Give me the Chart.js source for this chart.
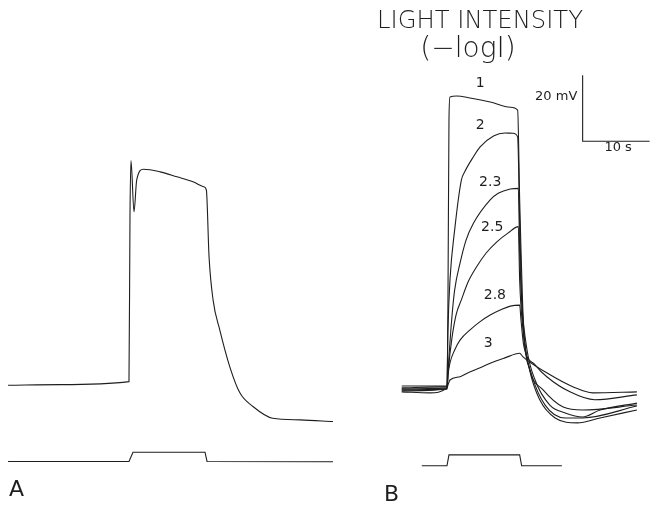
<!DOCTYPE html>
<html>
<head>
<meta charset="utf-8">
<script src="https://cdn.jsdelivr.net/npm/chart.js@4"></script>
<style>
  body { margin: 0; background: #fff; }
  canvas { display: block; }
</style>
</head>
<body>
<canvas id="myChart" width="655" height="506"></canvas>
<script>
// Panel A: time (s, from light onset) and potential (mV)
const traceA = [[-18.2,-0.4],[-10.4,-0.2],[-0.15,0.7],[0,50.7],[0.15,67.7],[0.6,52.2],[1.0,61.8],[2.0,65.1],[4.5,64.3],[7.0,62.8],[9.4,61.3],[11.0,59.8],[11.4,58.8],[11.8,38.6],[12.4,25.5],[13.4,16.4],[14.9,5.2],[16.4,-2.7],[18.4,-6.9],[21.3,-10.4],[25.4,-10.9],[30.3,-11.4]];
const stimA = [[-18.2,-23.5],[-0.15,-23.5],[0.45,-20.7],[11.2,-20.7],[11.5,-23.5],[30.3,-23.6]];

// Panel B: one trace per light intensity (-log I)
const intensities = ["1", "2", "2.3", "2.5", "2.8", "3"];
const trace1 = [[-6.9,-0.6],[-1.2,-0.3],[-0.15,-0.3],[0,26.1],[0.15,80.6],[0.3,87.6],[1.3,87.9],[3.3,87.3],[6.3,86.1],[9.3,84.5],[10.4,83.6],[10.7,56.4],[10.9,41.2],[11.3,17],[12.2,4.8],[13.7,-4.2],[16,-9.7],[19.3,-11.2],[22.7,-9.7],[28.2,-7.3]];
const trace2 = [[-6.9,0],[-0.15,0],[0,17],[0.3,32.1],[1.0,47.3],[2.0,62.4],[2.5,64.9],[3.8,69.5],[4.8,72.5],[6.8,75.8],[8.5,76.7],[9.7,76.6],[10.4,75.5],[10.7,50.3],[11.0,26.1],[11.5,12.4],[12.5,3.3],[14.5,-5.8],[17.5,-9.7],[20.1,-9.7],[28.2,-6.1]];
const trace23 = [[-6.9,-0.9],[-0.15,-0.6],[0.05,5.8],[0.55,20],[1.0,29.1],[1.8,37.2],[2.7,44.2],[3.8,49.3],[6.3,56.4],[7.5,58.4],[9.3,59.7],[10.5,59.9],[10.7,41.2],[11.0,26.1],[11.8,10.9],[13.0,1.8],[15.2,-5.8],[17.5,-8.2],[20.1,-9.4],[22.7,-7.3],[28.2,-5.2]];
const trace25 = [[-6.9,-1.2],[-0.15,-0.9],[0.05,4.8],[0.55,13.9],[1.2,21.5],[2.0,26.1],[3.0,31.5],[4.3,36.2],[5.7,40.3],[7.3,43.7],[9.0,46.4],[10.5,48.3],[10.7,32.1],[11.2,17],[12.2,4.8],[14.2,-1.2],[17.2,-6.4],[20.1,-7.3],[28.2,-5.8]];
const trace28 = [[-6.9,-1.5],[-0.15,-0.9],[0,3.3],[0.3,7],[1.0,10.9],[1.8,13.9],[3.3,17],[4.8,19.5],[6.3,21.5],[7.8,23],[9.3,24.2],[10.7,24.5],[10.9,20],[11.3,12.4],[13.0,6.4],[14.8,2.7],[18.2,-1.8],[21.9,-4.2],[28.2,-2.7]];
const trace3 = [[-6.9,-1.8],[-2.7,-2.1],[-0.15,-0.6],[0,0.3],[0.3,1.8],[1.8,2.8],[2.8,3.8],[4.8,5.5],[6.3,6.9],[8.5,8.5],[10.7,9.9],[11.2,8.8],[14.8,3.9],[18.7,-0.3],[21.6,-2.1],[28.2,-1.8]];
const tracesB = [trace1, trace2, trace23, trace25, trace28, trace3];
const labelPosB = [[4.8,91.8],[4.8,79.1],[6.3,61.8],[6.6,48.2],[7.0,27.6],[6.0,13.0]];
const stimB = [[-3.9,-24.2],[-0.15,-24.2],[0.15,-20.9],[10.7,-20.9],[11.0,-24.2],[17.0,-24.2]];

// Scale bar: 20 mV, 10 s
const scaleBar = [[20.1,94.2],[20.1,74.2],[30.1,74.2]];

// panel B sits to the right of panel A on the same axes
const offsetB = [47.46, -0.6];

const ink = "#1e1e1e";

function toPoints(arr, off) {
  return arr.map(p => ({ x: p[0] + off[0], y: p[1] + off[1] }));
}

function lineSet(arr, off, smooth) {
  return {
    data: toPoints(arr, off),
    borderColor: ink,
    borderWidth: 1.1,
    pointRadius: 0,
    fill: false,
    cubicInterpolationMode: smooth ? "monotone" : "default",
    tension: 0,
  };
}

const datasets = [
  lineSet(traceA, [0, 0], true),
  lineSet(stimA, [0, 0], false),
  lineSet(stimB, offsetB, false),
  lineSet(scaleBar, offsetB, false),
];
tracesB.forEach(t => datasets.push(lineSet(t, offsetB, true)));

// texts drawn on top
const textPlugin = {
  id: "texts",
  afterDraw(chart) {
    const ctx = chart.ctx;
    const xs = chart.scales.x, ys = chart.scales.y;
    const px = v => xs.getPixelForValue(v + offsetB[0]);
    const py = v => ys.getPixelForValue(v + offsetB[1]);
    ctx.save();
    ctx.fillStyle = ink;
    ctx.textBaseline = "middle";

    ctx.font = "14px 'DejaVu Sans'";
    ctx.textAlign = "center";
    intensities.forEach((lab, i) => {
      ctx.fillText(lab, px(labelPosB[i][0]), py(labelPosB[i][1]));
    });

    ctx.font = "13px 'DejaVu Sans'";
    ctx.textAlign = "right";
    ctx.fillText("20 mV", px(19.3), py(87.6));
    ctx.textAlign = "center";
    ctx.fillText("10 s", px(25.4), py(72.1));

    ctx.font = "200 25px 'DejaVu Sans'";
    ctx.fillText("LIGHT INTENSITY", 480, 21, 206);
    ctx.font = "200 28px 'DejaVu Sans'";
    ctx.fillText("(−logI)", 468, 50, 97);

    ctx.font = "22px 'DejaVu Sans'";
    ctx.textAlign = "left";
    ctx.fillText("A", 9, 490);
    ctx.fillText("B", 384, 495);
    ctx.restore();
  }
};

const config = {
  type: "line",
  data: { datasets: datasets },
  options: {
    responsive: false,
    animation: false,
    layout: { padding: 0 },
    plugins: {
      legend: { display: false },
      tooltip: { enabled: false },
    },
    scales: {
      x: { type: "linear", display: false, min: -19.4, max: 78.36 },
      y: { type: "linear", display: false, min: -37.0, max: 116.4 },
    },
  },
  plugins: [textPlugin],
};

const ctx = document.getElementById("myChart").getContext("2d");
new Chart(ctx, config);
</script>
</body>
</html>
